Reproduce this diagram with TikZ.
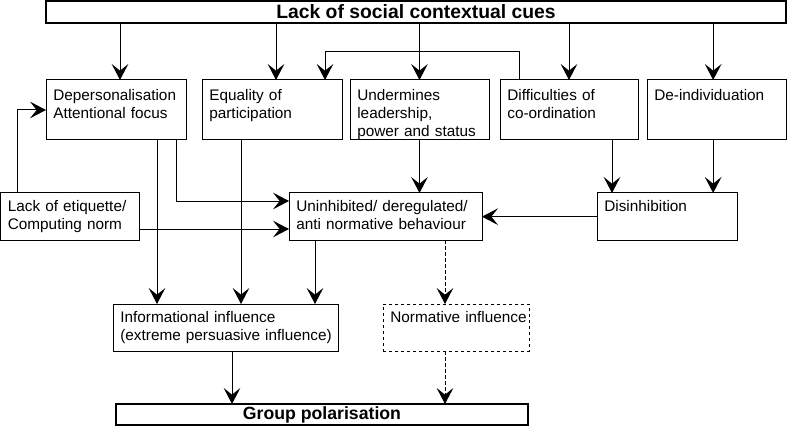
\documentclass[tikz,border=0pt]{standalone}
\usepackage{fontspec}
\setmainfont{Liberation Sans}
\usetikzlibrary{arrows.meta}
\hyphenpenalty=10000

\begin{document}
\begin{tikzpicture}[x=0.75pt,y=-0.75pt,
    box/.style={draw, line width=0.75pt, outer sep=0pt, anchor=north west,
      inner xsep=5.5pt, inner ysep=3pt, align=left,
      font=\fontsize{11.5}{13.5}\selectfont},
    tallbox/.style={box, text height=12.5pt, text depth=26.5pt},
    lowbox/.style={box, text height=10.5pt, text depth=19pt},
    headbox/.style={draw, line width=1.5pt, outer sep=0pt, anchor=north west,
      inner sep=0pt, font=\fontsize{14.5}{16}\selectfont\bfseries},
    link/.style={-{Stealth[length=12pt,width=12.5pt,inset=5pt]}, line width=0.75pt}]
  \useasboundingbox (0,0) rectangle (790,428);
  % top and bottom bars
  \node[headbox, minimum width=555pt, minimum height=16.5pt] (cues) at (46,1) {Lack of social contextual cues};
  \node[headbox, minimum width=309pt, minimum height=15.75pt, font=\fontsize{13.25}{15}\selectfont\bfseries] (grp) at (116,404) {Group polarisation};
  % first row
  \node[tallbox, text width=94pt] (dep) at (46,80) {Depersonalisation\\Attentional focus};
  \node[tallbox, text width=94pt] (eq) at (202,80) {Equality of\\participation};
  \node[tallbox, text width=93.25pt] (und) at (350,80) {Undermines\\leadership,\\power and status};
  \node[tallbox, text width=92.5pt] (dif) at (500,80) {Difficulties of\\co-ordination};
  \node[tallbox, text width=93.25pt] (dei) at (647,80) {De-individuation};
  % middle row
  \node[lowbox, text width=92.9pt] (eti) at (0.5,193) {Lack of etiquette/\\Computing norm};
  \node[lowbox, text width=133.75pt] (uni) at (289,193) {Uninhibited/ deregulated/\\anti normative behaviour};
  \node[lowbox, text width=94pt] (dis) at (597,193) {Disinhibition};
  % influences
  \node[lowbox, text width=157.75pt] (inf) at (113,304) {Informational influence\\(extreme~persuasive~influence)};
  \node[lowbox, text width=98.5pt, dash pattern=on 2.5pt off 2pt] (nor) at (383,304) {Normative~influence};

  % connector ends
  \coordinate (depin) at ([xshift=3pt]dep.north);
  \coordinate (eqin) at ([xshift=3pt]eq.north);
  \coordinate (deiin) at ([xshift=-2.5pt]dei.north);
  \coordinate (deidown) at ([xshift=-2.5pt]dei.south);
  \coordinate (difout) at ([xshift=14.25pt]dif.north west);
  \coordinate (eqback) at ([xshift=-12.75pt]eq.north east);
  \coordinate (etiup) at ([xshift=13pt]eti.north west);
  \coordinate (etiright) at ([yshift=-27pt]eti.north east);
  \coordinate (depdown) at ([xshift=-7.5pt]dep.south east);
  \coordinate (depleft) at ([xshift=-21.75pt]dep.south east);
  \coordinate (uniupper) at ([yshift=-6pt]uni.north west);
  \coordinate (eqdown) at ([xshift=29.25pt]eq.south west);
  \coordinate (unileft) at ([xshift=19.5pt]uni.south west);
  \coordinate (uniright) at ([xshift=117pt]uni.south west);
  \coordinate (difdown) at ([xshift=84pt]dif.south west);
  \coordinate (infdown) at ([xshift=89.25pt]inf.south west);

  % from the cues bar
  \foreach \n in {depin,eqin,und.north,dif.north,deiin}
    \draw[link] (cues.south -| \n) -- (\n);
  \draw[link] (difout) -- ++(0,-28) -| (eqback);
  \draw[link] (etiup) |- (dep.west);
  % into the behaviour box
  \draw[link] (depdown) |- (uniupper);
  \draw[link] (etiright) -- (etiright -| uni.west);
  \draw[link] (und.south) -- (und.south |- uni.north);
  \draw[link] (dis.west) -- (dis.west -| uni.east);
  % into disinhibition
  \draw[link] (difdown) -- (difdown |- dis.north);
  \draw[link] (deidown) -- (deidown |- dis.north);
  % into the influences
  \foreach \n in {depleft,eqdown,unileft}
    \draw[link] (\n) -- (\n |- inf.north);
  \draw[link, dash pattern=on 2.5pt off 2pt] (uniright) -- (uniright |- nor.north);
  % to polarisation
  \draw[link] (infdown) -- (infdown |- grp.north);
  \draw[link, dash pattern=on 2.5pt off 2pt] (uniright |- nor.south) -- (uniright |- grp.north);
\end{tikzpicture}
\end{document}
